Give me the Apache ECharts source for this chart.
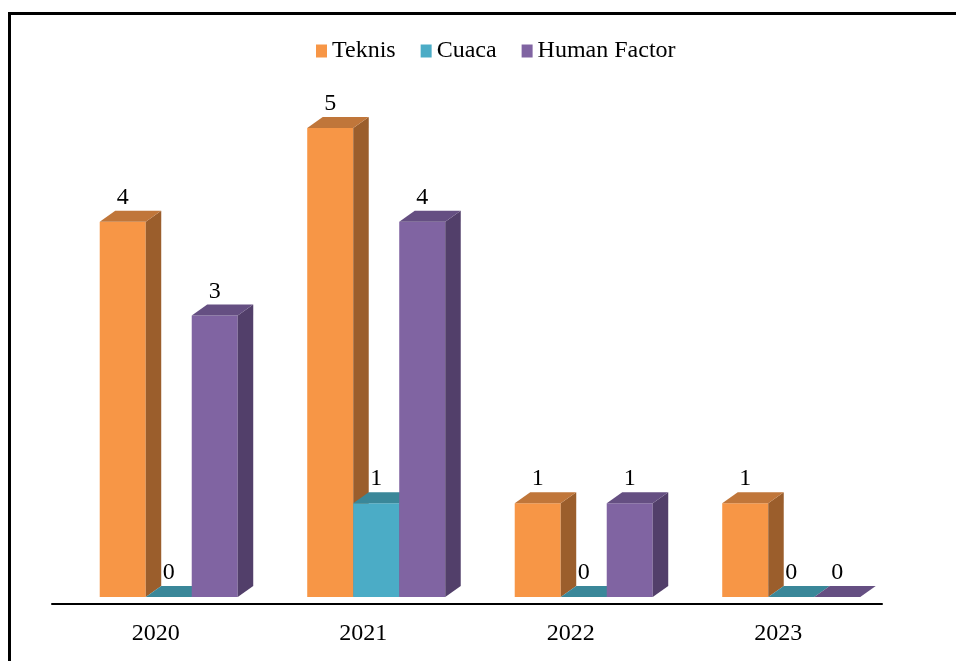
<!DOCTYPE html>
<html>
<head>
<meta charset="utf-8">
<script src="https://cdn.jsdelivr.net/npm/echarts@6/dist/echarts.min.js"></script>
<style>html,body{margin:0;padding:0;background:#fff;}#c{width:956px;height:661px;}</style>
</head>
<body>
<div id="c"></div>
<script>
var categories = ['2020', '2021', '2022', '2023'];
var seriesNames = ['Teknis', 'Cuaca', 'Human Factor'];
var teknis = [4, 5, 1, 1];
var cuaca = [0, 1, 0, 0];
var human = [3, 4, 1, 0];

var palettes = [
  { front: '#F79646', top: '#C0763A', side: '#9B5E2C' },
  { front: '#4BACC6', top: '#3A8799', side: '#2F6F80' },
  { front: '#8064A2', top: '#654F82', side: '#523F6A' }
];
var FONT = '"Liberation Serif", "Times New Roman", serif';
var DX = 15.5, DY = 11;

function makeSeries(idx, values) {
  var pal = palettes[idx];
  return {
    type: 'custom',
    name: seriesNames[idx],
    itemStyle: { color: pal.front },
    data: values.map(function (v, i) { return [i, v]; }),
    encode: { x: 0, y: 1 },
    renderItem: function (params, api) {
      var ci = api.value(0), v = api.value(1);
      var base = api.coord([ci, 0]);
      var top = api.coord([ci, v]);
      var band = api.size([1, 0])[0];
      var w = band * 0.2217;
      var x0 = base[0] - band * 0.27 + idx * w;
      var by = base[1], ty = top[1];
      var children = [];
      if (by - ty > 0.5) {
        children.push({ type: 'rect', shape: { x: x0, y: ty, width: w, height: by - ty }, style: { fill: pal.front } });
        children.push({ type: 'polygon', shape: { points: [[x0 + w, ty], [x0 + w + DX, ty - DY], [x0 + w + DX, by - DY], [x0 + w, by]] }, style: { fill: pal.side } });
      }
      children.push({ type: 'polygon', shape: { points: [[x0, ty], [x0 + DX, ty - DY], [x0 + w + DX, ty - DY], [x0 + w, ty]] }, style: { fill: pal.top } });
      children.push({ type: 'text', style: { text: String(v), x: x0 + w / 2, y: ty - DY - 13, align: 'center', verticalAlign: 'middle', font: '24px ' + FONT, fill: '#000' } });
      return { type: 'group', children: children };
    }
  };
}

var chart = echarts.init(document.getElementById('c'));
chart.setOption({
  animation: false,
  backgroundColor: '#fff',
  graphic: [{
    type: 'polyline',
    shape: { points: [[9.5, 661], [9.5, 13.5], [956, 13.5]] },
    style: { stroke: '#000', lineWidth: 3, fill: null }
  }],
  legend: {
    left: 311, top: 34,
    icon: 'rect', itemWidth: 11, itemHeight: 13, itemGap: 25,
    textStyle: { fontFamily: FONT, fontSize: 24, color: '#000' },
    data: seriesNames
  },
  grid: { left: 52, right: 74, top: 128, bottom: 64 },
  xAxis: {
    type: 'category',
    data: categories,
    offset: 7,
    axisLine: { onZero: false, lineStyle: { color: '#000', width: 2 } },
    axisTick: { show: false },
    axisLabel: { fontFamily: FONT, fontSize: 24, color: '#000', margin: 18 }
  },
  yAxis: { type: 'value', min: 0, max: 5, show: false, splitLine: { show: false } },
  series: [makeSeries(0, teknis), makeSeries(1, cuaca), makeSeries(2, human)]
});
</script>
</body>
</html>
